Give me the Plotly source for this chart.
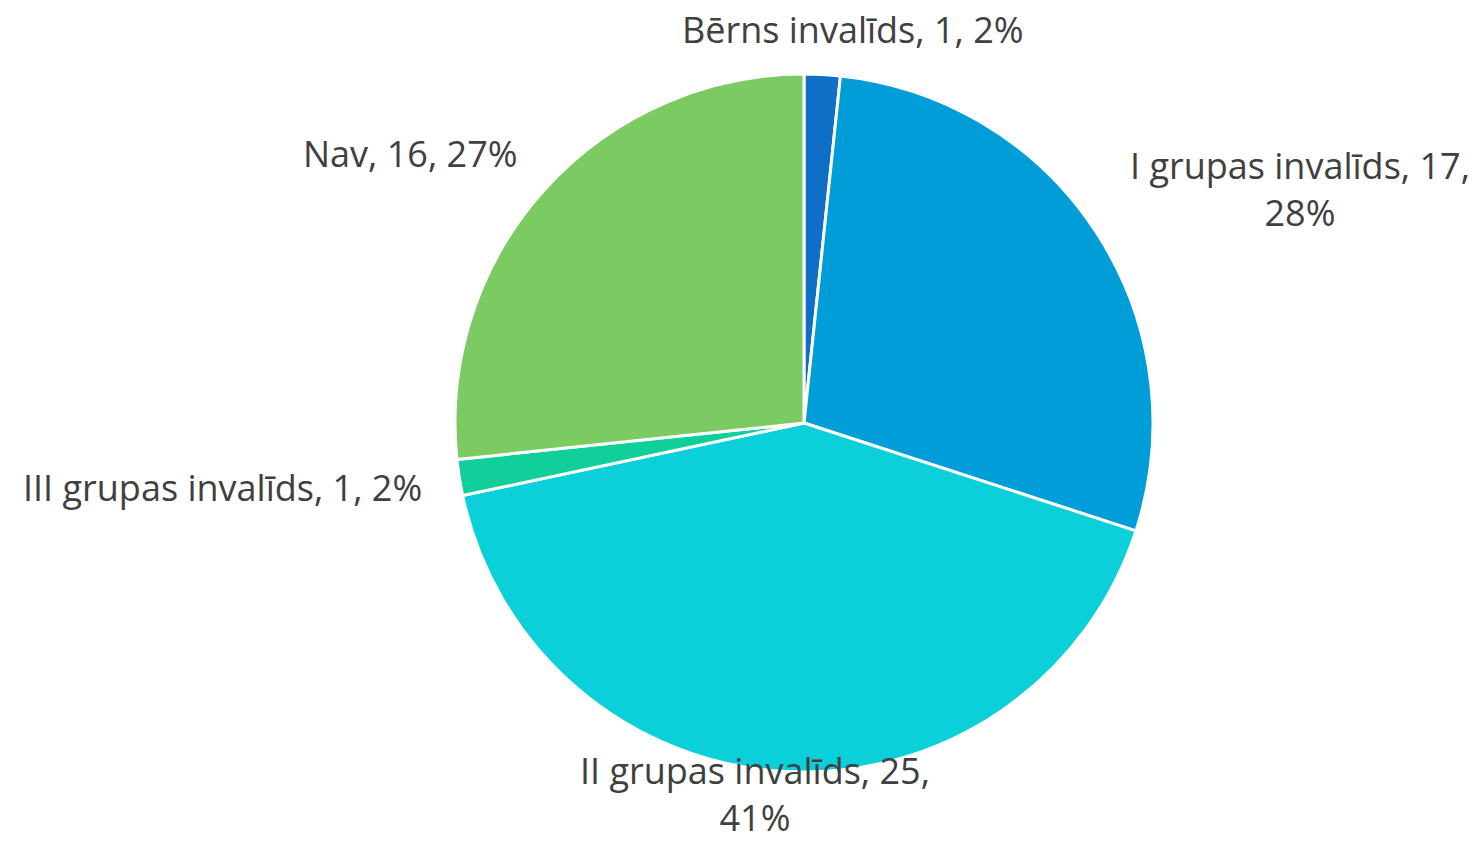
import plotly.graph_objects as go

categories = ["Bērns invalīds", "I grupas invalīds", "II grupas invalīds", "III grupas invalīds", "Nav"]
values = [1, 17, 25, 1, 16]
pct_labels = ["2%", "28%", "41%", "2%", "27%"]
colors = ["#0F6FC6", "#009DD9", "#0BD0D9", "#10CF9B", "#7CCA62"]

W, H = 1483, 845
fig = go.Figure()
fig.add_trace(go.Pie(
    labels=categories, values=values, sort=False, direction="clockwise", rotation=0,
    marker=dict(colors=colors, line=dict(color="white", width=3)),
    textinfo="none", showlegend=False, hoverinfo="label+value+percent",
    domain=dict(x=[455 / W, 1153 / W], y=[1 - 772 / H, 1 - 74 / H]),
))

# label texts, composed from the data
texts = [f"{c}, {v}, {p}" for c, v, p in zip(categories, values, pct_labels)]
texts[1] = f"{categories[1]}, {values[1]},<br>{pct_labels[1]}"
texts[2] = f"{categories[2]}, {values[2]},<br>{pct_labels[2]}"
label_pos = [(853, 30), (1300, 189), (755, 794), (222, 487), (410, 153)]
for t, (x, y) in zip(texts, label_pos):
    fig.add_annotation(text=t, x=x / W, y=1 - y / H, xref="paper", yref="paper",
                       showarrow=False, xanchor="center", yanchor="middle",
                       font=dict(family="Open Sans", size=36, color="#404040"))

fig.update_layout(width=W, height=H, margin=dict(l=0, r=0, t=0, b=0),
                  paper_bgcolor="white", plot_bgcolor="white")
fig.write_html("out.html")
